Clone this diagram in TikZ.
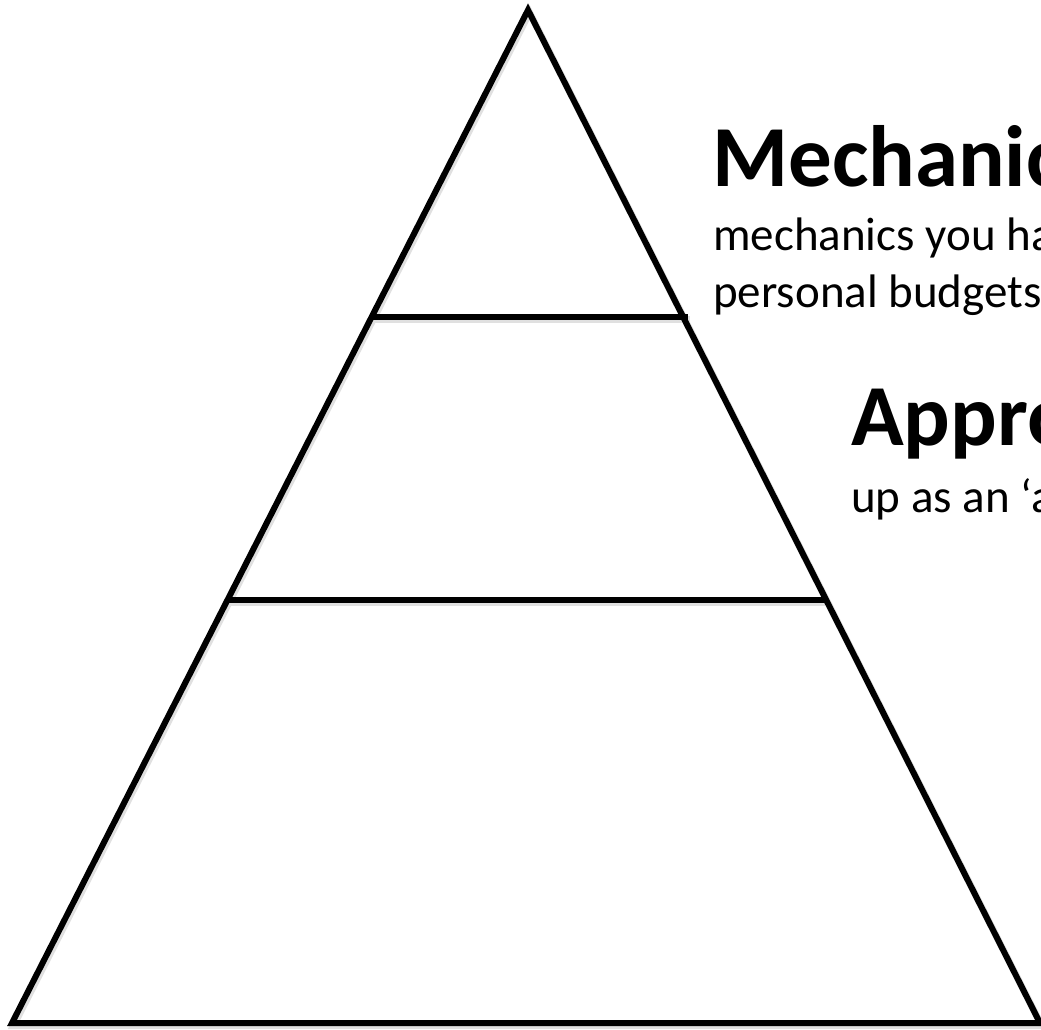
\documentclass[tikz,border=0pt]{standalone}
\usepackage{fontspec}
\setmainfont{Carlito}
\tikzset{
  edge/.style={line width=6pt, black, line join=miter},
  shadowline/.style={line width=7pt, black!12},
  title/.style={anchor=base west, inner sep=0pt, font=\fontsize{87}{87}\selectfont\bfseries},
  body/.style={anchor=base west, inner sep=0pt, font=\fontsize{47}{47}\selectfont},
}
\begin{document}
\begin{tikzpicture}[x=1pt,y=-1pt]
\useasboundingbox (0,0) rectangle (1041,1029);
\clip (0,0) rectangle (1041,1029);
\fill[white] (0,0) rectangle (1041,1029);
% shadows
\begin{scope}[shift={(1.5,2.5)}]
\draw[shadowline] (528,10) -- (1040,1023) -- (12,1023) -- cycle;
\draw[shadowline] (370,317) -- (688,317);
\draw[shadowline] (228,600) -- (828,600);
\end{scope}
% pyramid
\coordinate (apex) at (528,10);
\coordinate (bl) at (12,1023);
\coordinate (br) at (1040,1023);
\coordinate (l1a) at (370,317);
\coordinate (l1b) at (688,317);
\coordinate (l2a) at (228,600);
\coordinate (l2b) at (828,600);
\draw[edge] (apex) -- (br) -- (bl) -- cycle;
\draw[edge] (l1a) -- (l1b);
\draw[edge] (l2a) -- (l2b);
% texts
\node[title] (t1) at (712,186) {Mechanic};
\node[body] (t1a) at (713,250) {mechanics you ha};
\node[body] (t1b) at (713,307) {personal budgets};
\node[title] (t2) at (851,445) {Appro};
\node[body] (t2a) at (851,512) {up as an ‘a};
\end{tikzpicture}
\end{document}
